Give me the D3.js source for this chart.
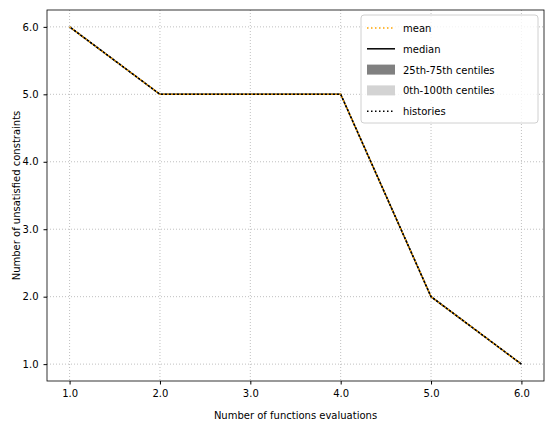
<html>
<head>
<script src="https://d3js.org/d3.v7.min.js"></script>
<style>
body{margin:0;background:#fff;}
text{font-family:"DejaVu Sans",sans-serif;}
</style>
</head>
<body>
<div id="graph"></div>
<script>
const evals = [1,2,3,4,5,6];
const meanVals = [6,5,5,5,2,1];
const medianVals = [6,5,5,5,2,1];
const historyVals = [6,5,5,5,2,1];
const xTicks = [1,2,3,4,5,6];
const yTicks = [1,2,3,4,5,6];
const legendItems = [
  {label:'mean', type:'line', color:'orange', dash:'1.5,2.5'},
  {label:'median', type:'line', color:'black', dash:null},
  {label:'25th-75th centiles', type:'rect', color:'gray'},
  {label:'0th-100th centiles', type:'rect', color:'lightgray'},
  {label:'histories', type:'line', color:'black', dash:'1.5,2.5'}
];

const w = 554, h = 432;
const pLeft = 47, pRight = 544, pTop = 10, pBottom = 381;

const svg = d3.select('#graph').append('svg').attr('width',w).attr('height',h);

const xScale = d3.scaleLinear().domain([0.75,6.25]).range([pLeft,pRight]);
const yScale = d3.scaleLinear().domain([0.75,6.25]).range([pBottom,pTop]);

// grid
svg.append('g').selectAll('line').data(xTicks).enter().append('line')
  .attr('x1',d=>xScale(d)).attr('x2',d=>xScale(d)).attr('y1',pTop).attr('y2',pBottom)
  .attr('stroke','#b0b0b0').attr('stroke-width',0.8).attr('stroke-dasharray','1,2');
svg.append('g').selectAll('line').data(yTicks).enter().append('line')
  .attr('y1',d=>yScale(d)).attr('y2',d=>yScale(d)).attr('x1',pLeft).attr('x2',pRight)
  .attr('stroke','#b0b0b0').attr('stroke-width',0.8).attr('stroke-dasharray','1,2');

const line = d3.line().x((d,i)=>xScale(evals[i])).y(d=>yScale(d));

svg.append('path').datum(medianVals).attr('d',line).attr('fill','none').attr('stroke','black').attr('stroke-width',1.5);
svg.append('path').datum(meanVals).attr('d',line).attr('fill','none').attr('stroke','orange').attr('stroke-width',1.5).attr('stroke-dasharray','1.5,2.5');
svg.append('path').datum(historyVals).attr('d',line).attr('fill','none').attr('stroke','black').attr('stroke-width',1.5).attr('stroke-dasharray','1.5,2.5').attr('stroke-dashoffset',2);

// axes
const xAxis = d3.axisBottom(xScale).tickValues(xTicks).tickSize(3.5).tickPadding(5);
const yAxis = d3.axisLeft(yScale).tickValues(yTicks).tickSize(3.5).tickPadding(5);
svg.append('g').attr('transform','translate(0,'+pBottom+')').call(xAxis)
  .call(g=>g.select('.domain').remove()).selectAll('text').attr('font-size',10).attr('fill','black');
svg.append('g').attr('transform','translate('+pLeft+',0)').call(yAxis)
  .call(g=>g.select('.domain').remove()).selectAll('text').attr('font-size',10).attr('fill','black');

svg.append('rect').attr('x',pLeft).attr('y',pTop).attr('width',pRight-pLeft).attr('height',pBottom-pTop)
  .attr('fill','none').attr('stroke','black').attr('stroke-width',0.8);

svg.append('text').attr('x',(pLeft+pRight)/2).attr('y',419).attr('text-anchor','middle').attr('font-size',10).text('Number of functions evaluations');
svg.append('text').attr('transform','translate(20,'+((pTop+pBottom)/2)+') rotate(-90)').attr('text-anchor','middle').attr('font-size',10).text('Number of unsatisfied constraints');

// legend
const lg = svg.append('g');
lg.append('rect').attr('x',361).attr('y',15).attr('width',177).attr('height',108).attr('rx',3)
  .attr('fill','white').attr('fill-opacity',0.8).attr('stroke','#d0d0d0');
const items = lg.selectAll('g.item').data(legendItems).enter().append('g')
  .attr('transform',(d,i)=>'translate(367,'+(28+i*20.8)+')');
items.filter(d=>d.type==='line').append('line').attr('x1',0).attr('x2',28).attr('y1',0).attr('y2',0)
  .attr('stroke',d=>d.color).attr('stroke-width',1.5).attr('stroke-dasharray',d=>d.dash);
items.filter(d=>d.type==='rect').append('rect').attr('x',0).attr('y',-5).attr('width',28).attr('height',10)
  .attr('fill',d=>d.color);
items.append('text').attr('x',36).attr('y',4).attr('font-size',10).text(d=>d.label);
</script>
</body>
</html>
